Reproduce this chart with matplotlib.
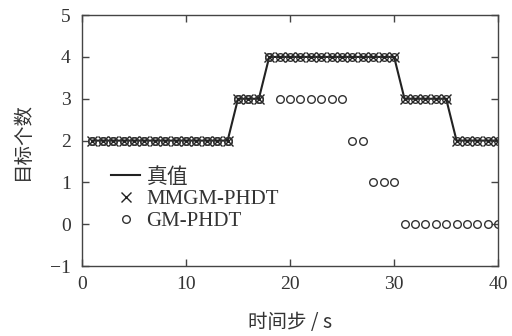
import matplotlib
matplotlib.use('Agg')
import matplotlib.pyplot as plt
import numpy as np

plt.rcParams['font.family'] = ['Liberation Serif', 'Noto Sans CJK SC']

# time steps and target counts
t = np.arange(1, 41)
truth = [2] * 14 + [3] * 3 + [4] * 13 + [3] * 5 + [2] * 5
mmgm = [2] * 14 + [3] * 3 + [4] * 13 + [3] * 5 + [2] * 5
gm = [2] * 14 + [3] * 3 + [4] + [3] * 7 + [2] * 2 + [1] * 3 + [0] * 10

fig = plt.figure(figsize=(5.12, 3.36), dpi=100)
ax = fig.add_axes([0.160, 0.208, 0.813, 0.747])

ax.plot(t, truth, '-', color='#222222', lw=1.5, label='真值')
# truth markers drawn over the line (no legend entry)
ax.plot(t, truth, 'o', mfc='none', mec='#333333', ms=5.5, mew=1.0)
ax.plot(t, mmgm, 'x', color='#222222', ms=6.5, mew=1.0, label='MMGM-PHDT')
ax.plot(t, gm, 'o', mfc='none', mec='#333333', ms=5.5, mew=1.0, label='GM-PHDT')

ax.set_xlim(0, 40)
ax.set_ylim(-1, 5)
ax.set_xticks([0, 10, 20, 30, 40])
ax.set_yticks(range(-1, 6))
ax.set_yticklabels(['\u22121', '0', '1', '2', '3', '4', '5'])
ax.tick_params(direction='in', top=True, right=True, labelsize=14, length=5,
               width=1, color='#444444', labelcolor='#333333')
ax.tick_params(axis='x', pad=7)
ax.tick_params(axis='y', pad=8)
for s in ax.spines.values():
    s.set_color('#444444')
    s.set_linewidth(1.0)

ax.set_xlabel('时间步 / s', fontsize=14, labelpad=14,
              family=['Noto Sans CJK SC', 'Liberation Serif'], color='#333333')
ax.set_ylabel('目标个数', fontsize=14, labelpad=12,
              family=['Noto Sans CJK SC'], color='#333333')

leg = ax.legend(loc='upper left', bbox_to_anchor=(0.035, 0.45), frameon=False,
                handlelength=1.4, handletextpad=0.3,
                labelspacing=0.1, borderpad=0.2,
                prop={'family': ['Liberation Serif', 'Noto Sans CJK SC'], 'size': 15})
for txt in leg.get_texts():
    txt.set_color('#333333')

plt.savefig('out.png', dpi=100)
